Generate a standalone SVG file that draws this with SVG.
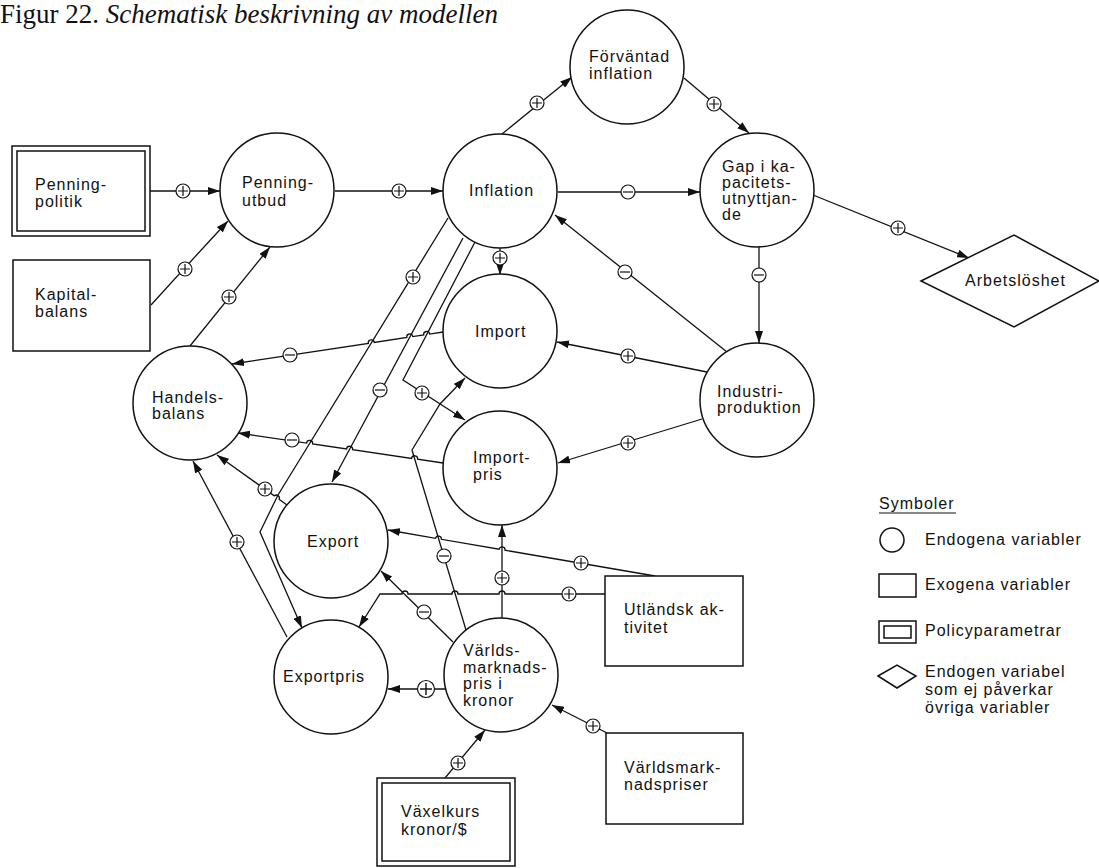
<svg xmlns="http://www.w3.org/2000/svg" width="1099" height="868" viewBox="0 0 1099 868">
<style>
.n{fill:#fff;stroke:#111;stroke-width:1.5}
.t{font-family:"Liberation Sans",Arial,sans-serif;font-size:16px;letter-spacing:1px;fill:#111}
.c{fill:none;stroke:#111;stroke-width:1.3}
.a{marker-end:url(#ah)}
.s{fill:#fff;stroke:#111;stroke-width:1.2}
</style>
<defs>
<marker id="ah" markerUnits="userSpaceOnUse" markerWidth="12" markerHeight="8" refX="12" refY="4" orient="auto">
<path d="M0,0 L12,4 L0,8 z" fill="#111"/>
</marker>
<g id="p"><circle class="s" r="7"/><path d="M-5,0H5M0,-5V5" stroke="#111" stroke-width="1.2"/></g>
<g id="m"><circle class="s" r="7"/><path d="M-5,0H5" stroke="#111" stroke-width="1.2"/></g>
<g id="pb"><circle class="s" r="8.5"/><path d="M-6,0H6M0,-6V6" stroke="#111" stroke-width="1.4"/></g>
</defs>
<rect width="1099" height="868" fill="#fff"/>
<text x="0" y="23" font-family="Liberation Serif,serif" font-size="27" fill="#111">Figur 22. <tspan font-style="italic">Schematisk beskrivning av modellen</tspan></text>

<g id="connectors">
<path class="c a" d="M150,191 H220"/>
<path class="c a" d="M151,305 Q190,262 228,221"/>
<path class="c a" d="M190,346 L270,247"/>
<path class="c a" d="M335,191 H443"/>
<path class="c a" d="M502,134 L572,77"/>
<path class="c a" d="M684,78 L749,133"/>
<path class="c a" d="M558,192 H700"/>
<path class="c a" d="M813,195 L969,258"/>
<path class="c a" d="M759,247 V343"/>
<path class="c a" d="M500,248 V275"/>
<path class="c a" d="M727,352 L555,215"/>
<path class="c a" d="M707,372 L557,342"/>
<path class="c a" d="M702,419 L558,463"/>
<path class="c a" d="M443,332 L429.7,334.05 A3,3 0 0 0 423.7,334.95 L412.8,336.55 A3,3 0 0 0 406.8,337.45 L374.3,342.45 A3,3 0 0 0 368.3,343.35 L232,364"/>
<path class="c a" d="M443,463 L417.6,459.2 A3,3 0 0 0 411.6,458.4 L352.6,449.7 A3,3 0 0 0 346.6,448.9 L312.6,443.9 A3,3 0 0 0 306.6,443.1 L238,433"/>
<path class="c a" d="M287,505 L279.1,499.3 A3,3 0 0 0 274.3,495.9 L217,455"/>
<path class="c a" d="M287,637 L193,461"/>
<path class="c a" d="M448,218 L278,495 L260,532 L302,628"/>
<path class="c a" d="M463,238 L332,482"/>
<path class="c a" d="M475,242 L403,380 L465,420"/>
<path class="c a" d="M466,630 L412,450 L440,404 L465,378"/>
<path class="c a" d="M502,618 V525"/>
<path class="c a" d="M453,642 L381,571"/>
<path class="c a" d="M446,689 H388"/>
<path class="c a" d="M655,576 L505,550.2 A3,3 0 0 0 499.1,549.2 L441.4,539.3 A3,3 0 0 0 435.5,538.3 L388,530"/>
<path class="c a" d="M605,594 H505 A3,3 0 0 0 499,594 H458 A3,3 0 0 0 452,594 H408 A3,3 0 0 0 402,594 H380 L359,627"/>
<path class="c a" d="M445,778 L485,730"/>
<path class="c a" d="M607,733 L552,705"/>
<use href="#p" x="183" y="191"/>
<use href="#p" x="185" y="269"/>
<use href="#p" x="229" y="297"/>
<use href="#p" x="399" y="191"/>
<use href="#p" x="537" y="103"/>
<use href="#p" x="714" y="104"/>
<use href="#m" x="628" y="192"/>
<use href="#p" x="898" y="228"/>
<use href="#m" x="759" y="275"/>
<use href="#p" x="500" y="258"/>
<use href="#m" x="625" y="272"/>
<use href="#p" x="628" y="356"/>
<use href="#p" x="628" y="443"/>
<use href="#m" x="290" y="355"/>
<use href="#m" x="292" y="440"/>
<use href="#p" x="265" y="489"/>
<use href="#p" x="237" y="542"/>
<use href="#p" x="413" y="277"/>
<use href="#m" x="380" y="390"/>
<use href="#p" x="422" y="393"/>
<use href="#m" x="444" y="556"/>
<use href="#p" x="502" y="578"/>
<use href="#m" x="424" y="612"/>
<use href="#pb" x="426" y="689"/>
<use href="#p" x="581" y="563"/>
<use href="#p" x="569" y="594"/>
<use href="#p" x="458" y="763"/>
<use href="#p" x="593" y="726"/>
</g>

<g id="penningpolitik"><rect class="n" x="12" y="146" width="138" height="90"/><rect class="n" x="17" y="151" width="128" height="80"/><text class="t" x="35" y="190">Penning-</text><text class="t" x="35" y="207">politik</text></g>
<g id="kapitalbalans"><rect class="n" x="13" y="260" width="137" height="91"/><text class="t" x="35" y="300">Kapital-</text><text class="t" x="35" y="317">balans</text></g>
<g id="penningutbud"><circle class="n" cx="277" cy="190" r="57"/><text class="t" x="242" y="188">Penning-</text><text class="t" x="242" y="206">utbud</text></g>
<g id="inflation"><circle class="n" cx="500" cy="191" r="57"/><text class="t" x="469" y="196">Inflation</text></g>
<g id="forvantad"><circle class="n" cx="627" cy="67" r="57"/><text class="t" x="589" y="62">Förväntad</text><text class="t" x="589" y="79">inflation</text></g>
<g id="gap"><circle class="n" cx="757" cy="190" r="57"/><text class="t" x="722" y="172">Gap i ka-</text><text class="t" x="722" y="188">pacitets-</text><text class="t" x="722" y="204">utnyttjan-</text><text class="t" x="722" y="220">de</text></g>
<g id="arbetsloshet"><polygon class="n" points="921,281 1014,235 1099,281 1014,327"/><text class="t" x="965" y="286">Arbetslöshet</text></g>
<g id="import"><circle class="n" cx="500" cy="331" r="57"/><text class="t" x="475" y="337">Import</text></g>
<g id="industri"><circle class="n" cx="757" cy="400" r="57"/><text class="t" x="717" y="397">Industri-</text><text class="t" x="717" y="413">produktion</text></g>
<g id="handelsbalans"><circle class="n" cx="190" cy="403" r="57"/><text class="t" x="152" y="403">Handels-</text><text class="t" x="152" y="419">balans</text></g>
<g id="importpris"><circle class="n" cx="500" cy="468" r="57"/><text class="t" x="473" y="463">Import-</text><text class="t" x="473" y="480">pris</text></g>
<g id="export"><circle class="n" cx="331" cy="541" r="57"/><text class="t" x="307" y="547">Export</text></g>
<g id="exportpris"><circle class="n" cx="331" cy="677" r="57"/><text class="t" x="283" y="682">Exportpris</text></g>
<g id="varldspris"><circle class="n" cx="501" cy="675" r="57"/><text class="t" x="463" y="656">Världs-</text><text class="t" x="463" y="673">marknads-</text><text class="t" x="463" y="689">pris i</text><text class="t" x="463" y="706">kronor</text></g>
<g id="utlandsk"><rect class="n" x="605" y="576" width="138" height="90"/><text class="t" x="624" y="615">Utländsk ak-</text><text class="t" x="624" y="633">tivitet</text></g>
<g id="varldsmarknadspriser"><rect class="n" x="606" y="733" width="137" height="91"/><text class="t" x="624" y="773">Världsmark-</text><text class="t" x="624" y="790">nadspriser</text></g>
<g id="vaxelkurs"><rect class="n" x="377" y="778" width="138" height="88"/><rect class="n" x="382" y="783" width="128" height="78"/><text class="t" x="401" y="817">Växelkurs</text><text class="t" x="401" y="835">kronor/$</text></g>

<g id="legend">
<text class="t" x="879" y="509">Symboler</text>
<line x1="879" y1="513" x2="956" y2="513" stroke="#111" stroke-width="1.2"/>
<circle class="n" cx="892" cy="540" r="12"/>
<text class="t" x="925" y="545">Endogena variabler</text>
<rect class="n" x="879" y="574" width="37" height="23"/>
<text class="t" x="925" y="590">Exogena variabler</text>
<rect class="n" x="879" y="621" width="37" height="22"/>
<rect class="n" x="884" y="626" width="27" height="12"/>
<text class="t" x="925" y="636">Policyparametrar</text>
<polygon class="n" points="878,676 897,665 916,676 897,688"/>
<text class="t" x="925" y="677">Endogen variabel</text>
<text class="t" x="925" y="695">som ej påverkar</text>
<text class="t" x="925" y="713">övriga variabler</text>
</g>
</svg>
